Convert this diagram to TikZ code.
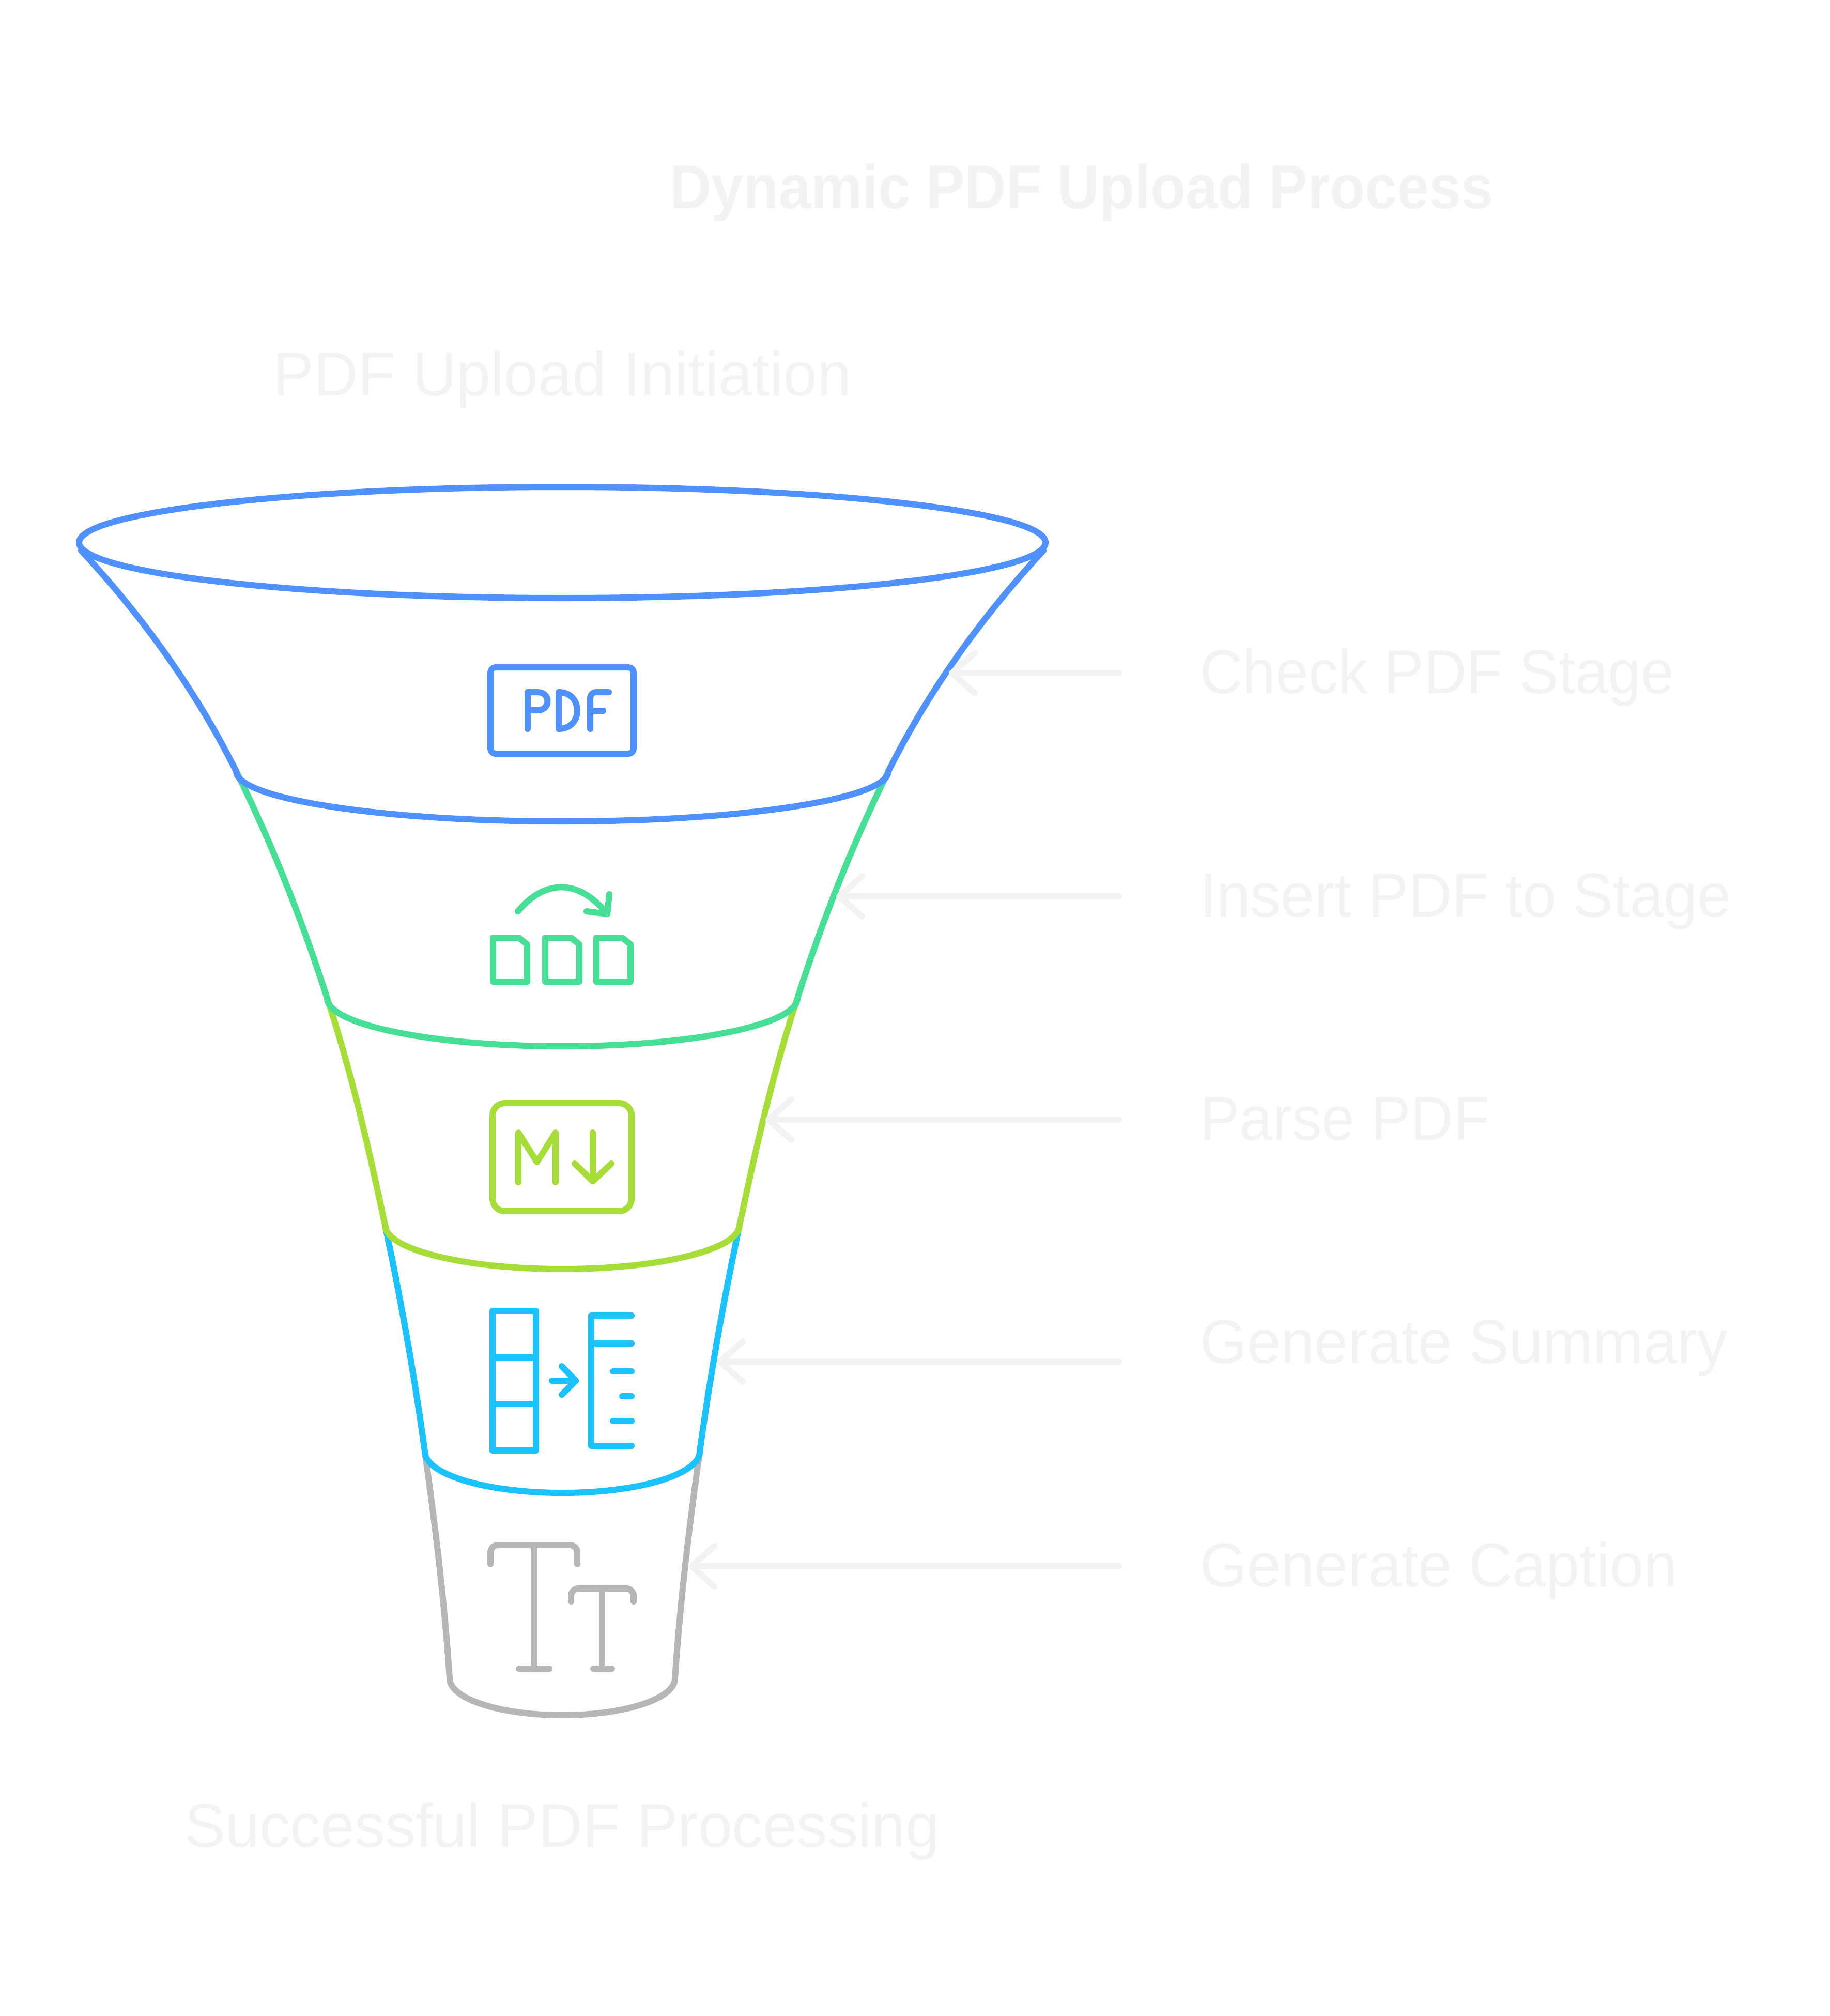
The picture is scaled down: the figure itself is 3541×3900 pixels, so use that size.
\documentclass[tikz,border=0pt]{standalone}
\usepackage{fontspec}
\setmainfont[FakeStretch=0.975,BoldFeatures={FakeStretch=0.93}]{Liberation Sans}
\newfontfamily\tightfont[FakeStretch=0.955]{Liberation Sans}
\newfontfamily\widefont[FakeStretch=0.987]{Liberation Sans}
\usetikzlibrary{arrows.meta}
\definecolor{stageblue}{HTML}{4F92FF}
\definecolor{stagegreen}{HTML}{45DF95}
\definecolor{stagelime}{HTML}{A6DD37}
\definecolor{stagecyan}{HTML}{1AC3FF}
\definecolor{stagegrey}{HTML}{B6B6B6}
\definecolor{faint}{HTML}{F3F3F3}
\tikzset{
  lbl/.style={text=faint,inner sep=0pt,anchor=base west,font=\fontsize{120}{144}\selectfont},
  leader/.style={draw=faint,line width=12pt,line cap=round,line join=round,shorten <=157pt,-{Straight Barb[length=44pt,width=78pt,round]}},
  wall/.style={line width=12pt,line join=round,line cap=round},
  icon/.style={line width=12pt,line join=round,line cap=round}
}
\begin{document}
\begin{tikzpicture}[x=1pt,y=1pt,yscale=-1]
\useasboundingbox (0,0) rectangle (3541,3900);

\node[lbl,font=\fontsize{120}{144}\selectfont\bfseries] (title) at (1296,403) {Dynamic PDF Upload Process};
\node[lbl,anchor=base] (topname) at (1088,765) {\widefont PDF Upload Initiation};
\node[lbl,anchor=base] (endname) at (1088,3573) {\widefont Successful PDF Processing};

\node[lbl] (check) at (2322,1341) {\tightfont Check PDF Stage};
\node[lbl] (insert) at (2322,1773) {Insert PDF to Stage};
\node[lbl] (parse) at (2322,2205) {\tightfont Parse PDF};
\node[lbl] (summary) at (2322,2637) {Generate Summary};
\node[lbl] (caption) at (2322,3069) {Generate Caption};

\coordinate (tipcheck) at (1836,1302);
\coordinate (tipinsert) at (1618,1734);
\coordinate (tipparse) at (1481,2166);
\coordinate (tipsummary) at (1387,2634);
\coordinate (tipcaption) at (1332,3030);

% funnel, lowest stage first
\draw[wall,stagegrey] (822,2808) .. controls (843,2957) and (860,3100) .. (870,3247)
  arc[start angle=180,end angle=0,x radius=218,y radius=71]
  .. controls (1316,3100) and (1333,2957) .. (1354,2808);
\draw[wall,stagecyan] (745,2370) .. controls (776,2516) and (802,2662) .. (822,2808)
  arc[start angle=180,end angle=0,x radius=266,y radius=80]
  .. controls (1374,2662) and (1400,2516) .. (1431,2370);
\draw[wall,stagelime] (633,1931) .. controls (681,2077) and (714,2224) .. (745,2370)
  arc[start angle=180,end angle=0,x radius=343,y radius=85]
  .. controls (1462,2224) and (1495,2077) .. (1543,1931);
\draw[wall,stagegreen] (457,1492) .. controls (529,1638) and (586,1785) .. (633,1931)
  arc[start angle=180,end angle=0,x radius=455,y radius=93]
  .. controls (1590,1785) and (1647,1638) .. (1719,1492);
\draw[wall,stageblue] (157,1065) .. controls (289,1207) and (386,1350) .. (457,1492)
  arc[start angle=180,end angle=0,x radius=631,y radius=97]
  .. controls (1790,1350) and (1887,1207) .. (2019,1065);
\draw[wall,stageblue] (1088,1049.5) ellipse[x radius=935,y radius=107.5];

% pdf icon
\draw[icon,stageblue,rounded corners=10pt] (949,1291) rectangle (1226,1458);
\draw[icon,stageblue] (1021,1410) -- (1021,1339) -- (1040,1339) .. controls (1066,1339) and (1066,1374) .. (1040,1374) -- (1021,1374);
\draw[icon,stageblue] (1081,1339) -- (1081,1410) .. controls (1129,1410) and (1129,1339) .. (1081,1339);
\draw[icon,stageblue] (1142,1410) -- (1142,1352) .. controls (1142,1343) and (1147,1339) .. (1154,1339) -- (1178,1339);
\draw[icon,stageblue] (1142,1375) -- (1167,1375);

% insert icon
\draw[icon,stagegreen] (1002,1763) .. controls (1055,1700) and (1120,1700) .. (1175,1768);
\draw[icon,stagegreen] (1179,1730) -- (1175,1768) -- (1135,1763);
\foreach \docx in {954,1055,1154}{
  \draw[icon,stagegreen] (\docx,1814) -- ++(50,0) -- ++(16,13) -- (\docx+66,1899) -- (\docx,1899) -- cycle;
}

% markdown icon
\draw[icon,stagelime,rounded corners=24pt] (953,2134) rectangle (1222,2343);
\draw[icon,stagelime] (1003,2287) -- (1003,2191) -- (1039,2248) -- (1075,2191) -- (1075,2287);
\draw[icon,stagelime] (1147,2191) -- (1147,2285);
\draw[icon,stagelime] (1112,2251) -- (1147,2285) -- (1183,2251);

% table icon
\draw[icon,stagecyan] (953,2536) rectangle (1037,2806);
\draw[icon,stagecyan] (953,2626) -- (1037,2626);
\draw[icon,stagecyan] (953,2716) -- (1037,2716);
\draw[icon,stagecyan] (1068,2671) -- (1114,2671);
\draw[icon,stagecyan] (1087,2643) -- (1114,2671) -- (1087,2698);
\draw[icon,stagecyan] (1222,2545) -- (1144,2545) -- (1144,2797) -- (1222,2797);
\draw[icon,stagecyan] (1144,2599) -- (1222,2599);
\draw[icon,stagecyan] (1186,2653) -- (1222,2653);
\draw[icon,stagecyan] (1204,2701) -- (1222,2701);
\draw[icon,stagecyan] (1186,2749) -- (1222,2749);

% text size icon
\draw[icon,stagegrey,rounded corners=14pt] (949,3026) -- (949,2989) -- (1117,2989) -- (1117,3026);
\draw[icon,stagegrey] (1033,2989) -- (1033,3228);
\draw[icon,stagegrey] (1004,3228) -- (1063,3228);
\draw[icon,stagegrey,rounded corners=14pt] (1105,3098) -- (1105,3073) -- (1226,3073) -- (1226,3098);
\draw[icon,stagegrey] (1165,3073) -- (1165,3228);
\draw[icon,stagegrey] (1148,3228) -- (1184,3228);

% leader arrows
\draw[leader] (check.west |- tipcheck) -- (tipcheck);
\draw[leader] (insert.west |- tipinsert) -- (tipinsert);
\draw[leader] (parse.west |- tipparse) -- (tipparse);
\draw[leader] (summary.west |- tipsummary) -- (tipsummary);
\draw[leader] (caption.west |- tipcaption) -- (tipcaption);
\end{tikzpicture}
\end{document}
